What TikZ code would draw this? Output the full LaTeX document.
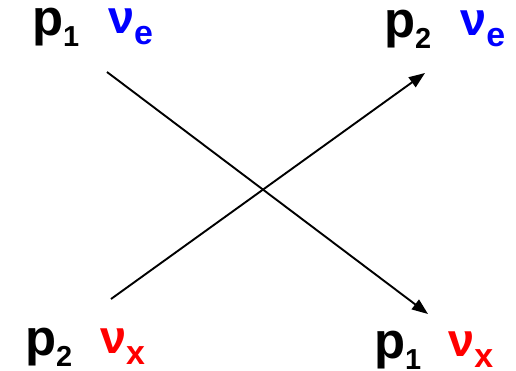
\documentclass[tikz,border=0pt]{standalone}
\usepackage{fontspec}
\setmainfont{Liberation Sans}
\usepackage{xcolor}
\usetikzlibrary{arrows.meta}
\newcommand{\lowsub}[2][29]{\raisebox{-11bp}{\fontsize{#1}{#1}\selectfont #2}}

\begin{document}
\begin{tikzpicture}[
   x=1bp, y=1bp,
   plab/.style={anchor=base west, inner sep=0pt, font=\bfseries\fontsize{51}{51}\selectfont},
   nulab/.style={anchor=base west, inner sep=0pt, font=\bfseries\fontsize{47}{47}\selectfont},
   flav/.style={line width=1.9bp, -{Triangle[length=16bp,width=12bp]}}
]
\useasboundingbox (0,0) rectangle (516,370);
\node[plab] (ptl) at (32,335) {p\lowsub{1}};
\node[nulab, blue] (nutl) at (108,337) {ν\lowsub[34]{e}};
\node[plab] (ptr) at (384,333) {p\lowsub{2}};
\node[nulab, blue] (nutr) at (460,335) {ν\lowsub[34]{e}};
\node[plab] (pbl) at (25,15) {p\lowsub{2}};
\node[nulab, red] (nubl) at (100,17) {ν\lowsub[34]{x}};
\node[plab] (pbr) at (374,12) {p\lowsub{1}};
\node[nulab, red] (nubr) at (448,14) {ν\lowsub[34]{x}};

\coordinate (a1) at (107,298); \coordinate (b1) at (428,56);
\coordinate (a2) at (111,71);  \coordinate (b2) at (425,297);
\draw[flav] (a1)--(b1);
\draw[flav] (a2)--(b2);
\end{tikzpicture}
\end{document}
